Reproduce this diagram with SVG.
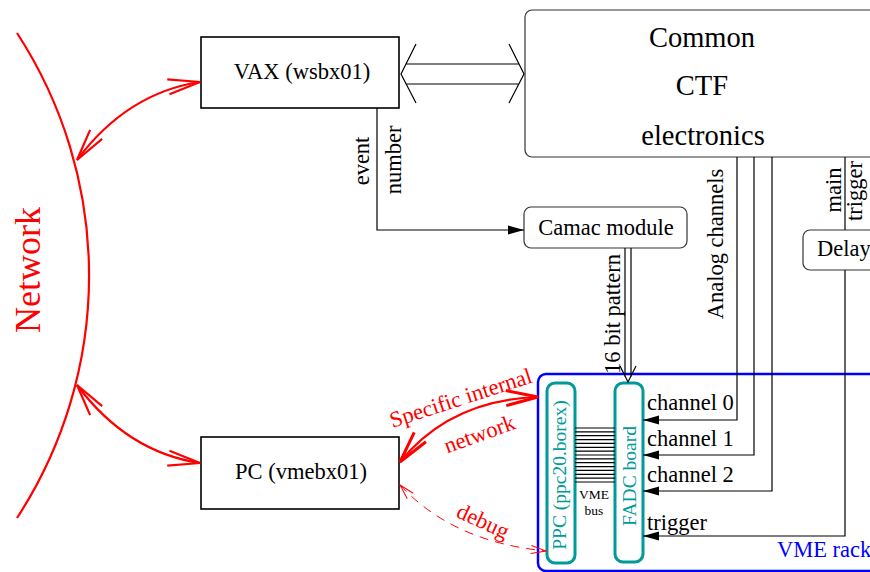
<svg xmlns="http://www.w3.org/2000/svg" width="870" height="572" viewBox="0 0 870 572">
<style>
text{font-family:"Liberation Serif","Times New Roman",serif;font-size:22.5px;fill:#000}
.box{fill:#fff;stroke:#000;stroke-width:1.6}
.rbox{fill:#fff;stroke:#333;stroke-width:1.2}
.ln{fill:none;stroke:#000;stroke-width:1.2}
.red{fill:none;stroke:#f00;stroke-width:2.2}
.teal{fill:#fff;stroke:#009a9a;stroke-width:3}
.tt{fill:#009a9a;font-size:19.5px}
.rt{fill:#f00}
.mid{text-anchor:middle}
.sm{font-size:13.5px}
</style>
<defs>
<marker id="fa" markerUnits="userSpaceOnUse" markerWidth="20" markerHeight="12" refX="0" refY="0" viewBox="-17 -6 18 12" orient="auto"><path d="M-16,-4.5L0,0L-16,4.5Z" fill="#000"/></marker>
<marker id="ra" markerUnits="userSpaceOnUse" markerWidth="40" markerHeight="20" refX="0" refY="0" viewBox="-34 -10 36 20" orient="auto-start-reverse" overflow="visible"><path d="M-32,-7.5L0,0L-32,7.5" fill="none" stroke="#f00" stroke-width="2.2"/></marker>
<marker id="ra3" markerUnits="userSpaceOnUse" markerWidth="40" markerHeight="20" refX="0" refY="0" viewBox="-34 -10 36 20" orient="auto-start-reverse" overflow="visible"><path d="M-32,-7.5L0,0L-32,7.5" fill="none" stroke="#f00" stroke-width="3"/></marker>
<marker id="rd" markerUnits="userSpaceOnUse" markerWidth="20" markerHeight="12" refX="0" refY="0" viewBox="-17 -6 18 12" orient="auto-start-reverse" overflow="visible"><path d="M-15,-4L0,0L-15,4" fill="none" stroke="#f00" stroke-width="1"/></marker>
</defs>

<g id="network">
<path d="M17,33 A444,444 0 0 1 17,518" fill="none" stroke="#f00" stroke-width="2.2"/>
<text class="rt mid" style="font-size:36px" transform="translate(40,270) rotate(-90)">Network</text>
</g>

<g id="vax">
<rect class="box" x="201" y="37" width="198" height="71"/>
<text class="mid" x="302" y="79">VAX (wsbx01)</text>
</g>

<g id="pc">
<rect class="box" x="201" y="437" width="198" height="72"/>
<text class="mid" x="301" y="479">PC (vmebx01)</text>
</g>

<g id="ctf">
<rect class="rbox" x="525" y="10" width="400" height="147" rx="7"/>
<text class="mid" x="702" y="47" style="font-size:28.5px">Common</text>
<text class="mid" x="702" y="95" style="font-size:28.5px">CTF</text>
<text class="mid" x="703" y="145" style="font-size:28.5px">electronics</text>
</g>

<g id="camac">
<rect class="rbox" x="524" y="207" width="163" height="41" rx="7"/>
<text class="mid" x="606" y="235">Camac module</text>
</g>

<g id="delay">
<rect class="rbox" x="803" y="230" width="100" height="40" rx="7"/>
<text x="817" y="256">Delay</text>
</g>

<g id="vmerack">
<rect x="538" y="374" width="400" height="197" rx="8" fill="none" stroke="#00f" stroke-width="2.5"/>
<text x="777" y="557" style="fill:#00f">VME rack</text>
</g>

<g id="ppc">
<rect class="teal" x="547" y="383" width="28" height="180" rx="8"/>
<text class="tt mid" transform="translate(566,475) rotate(-90)">PPC (ppc20.borex)</text>
</g>

<g id="fadc">
<rect class="teal" x="615" y="383" width="28" height="179" rx="8"/>
<text class="tt mid" transform="translate(636,476) rotate(-90)">FADC board</text>
</g>

<g id="connectors">
<path class="ln" d="M406,64H519M406,84H519M416,44L401,74L416,103M509,44L524,74L509,103"/>
<path class="ln" d="M377,108V230H524" marker-end="url(#fa)"/>
<text class="mid" transform="translate(369,161) rotate(-90)">event</text>
<text class="mid" transform="translate(401,160) rotate(-90)">number</text>
<path class="ln" d="M625,248V377M631,248V377M620,366L628,382L636,366"/>
<text class="mid" transform="translate(620,314) rotate(-90)">16 bit pattern</text>
<path class="ln" d="M737,157V420H643" marker-end="url(#fa)"/>
<path class="ln" d="M754,157V455H643" marker-end="url(#fa)"/>
<path class="ln" d="M772,157V491H643" marker-end="url(#fa)"/>
<text class="mid" transform="translate(723,244) rotate(-90)">Analog channels</text>
<text x="647" y="410">channel 0</text>
<text x="647" y="446">channel 1</text>
<text x="647" y="482">channel 2</text>
<path class="ln" d="M845,157V230"/>
<path class="ln" d="M845,270V536H643" marker-end="url(#fa)"/>
<text class="mid" transform="translate(841,190) rotate(-90)">main</text>
<text class="mid" transform="translate(862,191) rotate(-90)">trigger</text>
<text x="647" y="530">trigger</text>
<path class="ln" stroke-width="1" d="M575,428H615M575,431.9H615M575,435.7H615M575,439.6H615M575,443.4H615M575,447.3H615M575,451.1H615M575,455H615M575,458.9H615M575,462.7H615M575,466.6H615M575,470.4H615M575,474.3H615M575,478.1H615M575,482H615"/>
<text class="mid sm" x="594" y="499">VME</text>
<text class="mid sm" x="594" y="515">bus</text>
<path class="red" d="M77,160 Q127,93 200,82" marker-start="url(#ra)" marker-end="url(#ra)"/>
<path class="red" d="M77,385 Q127,452 200,463" marker-start="url(#ra)" marker-end="url(#ra)"/>
<path class="red" stroke-width="3" d="M400,462 Q450,400 538,397" marker-start="url(#ra3)" marker-end="url(#ra3)"/>
<text class="rt mid" transform="translate(463,405) rotate(-18)">Specific internal</text>
<text class="rt mid" transform="translate(482,441) rotate(-20)">network</text>
<path fill="none" stroke="#f00" stroke-width="1" stroke-dasharray="9,7" d="M400,485 Q453,542 546,551" marker-start="url(#rd)" marker-end="url(#rd)"/>
<text class="rt mid" transform="translate(480,528) rotate(25)">debug</text>
</g>
</svg>
